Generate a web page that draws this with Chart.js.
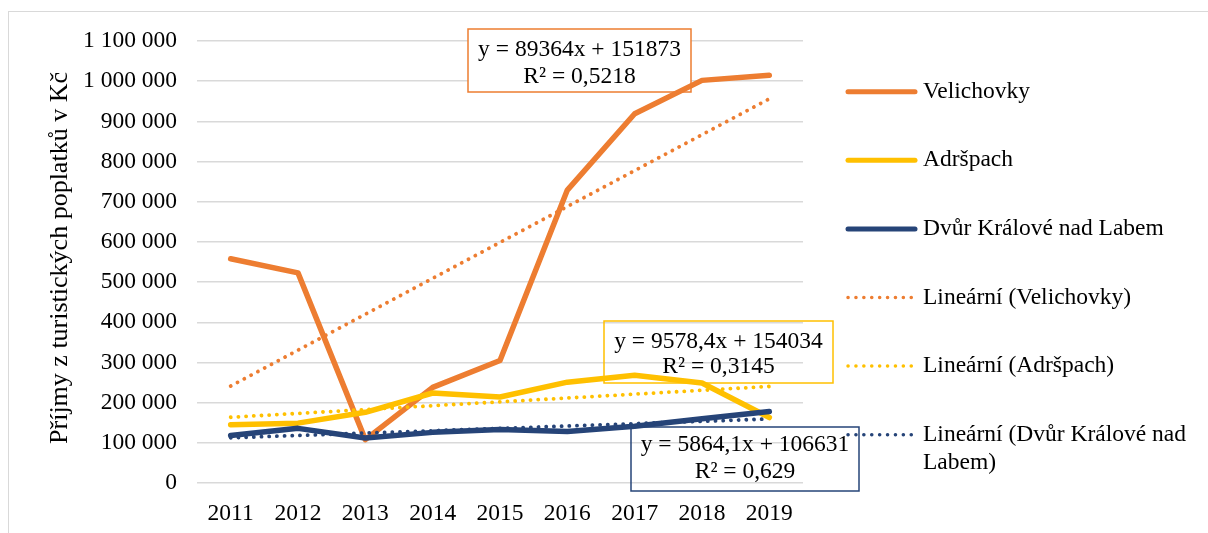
<!DOCTYPE html>
<html>
<head>
<meta charset="utf-8">
<script src="https://cdn.jsdelivr.net/npm/chart.js@4.4.0/dist/chart.umd.min.js"></script>
<style>
html, body { margin: 0; padding: 0; background: #fff; overflow: hidden; }
#ramec { position: absolute; left: 8px; top: 11px; width: 1400px; height: 700px; border: 1.5px solid #d9d9d9; }
#obal { position: absolute; left: 0; top: 0; width: 1208px; height: 533px; }
</style>
</head>
<body>
<div id="ramec"></div>
<div id="obal"><canvas id="graf" width="1208" height="533"></canvas></div>
<script>
const roky = ["2011", "2012", "2013", "2014", "2015", "2016", "2017", "2018", "2019"];
const velichovky = [558000, 523000, 108000, 238000, 305000, 729000, 919000, 1002000, 1015000];
const adrspach = [145000, 149000, 176000, 224000, 214000, 251000, 268000, 249000, 163000];
const dvur = [118000, 136000, 112000, 126000, 133000, 128000, 141000, 160000, 178000];
// trendy podle rovnic v grafu
const trendVelichovky = [241237, 330601, 419965, 509329, 598693, 688057, 777421, 866785, 956149];
const trendAdrspach = [163612, 173191, 182769, 192348, 201926, 211504, 221083, 230661, 240240];
const trendDvur = [112495, 118359, 124223, 130087, 135952, 141816, 147680, 153544, 159408];
const rovnice = [
  ["y = 89364x + 151873", "R² = 0,5218"],
  ["y = 9578,4x + 154034", "R² = 0,3145"],
  ["y = 5864,1x + 106631", "R² = 0,629"]
];

const ORANZ = "#ED7D31", ZLUTA = "#FFC000", MODRA = "#264478";
const PISMO = "'Liberation Serif', 'Times New Roman', serif";
const VEL = 23.5;

const carovy = (label, data, barva, order) => ({
  label, data, borderColor: barva, backgroundColor: barva,
  borderWidth: 5.5, pointRadius: 0, tension: 0,
  borderCapStyle: "round", borderJoinStyle: "round", order
});
const teckovany = (label, data, barva, order) => ({
  label, data, borderColor: barva, backgroundColor: barva,
  borderWidth: 3.8, pointRadius: 0, borderDash: [0.1, 7.6],
  borderCapStyle: "round", order
});

// rámečky s rovnicemi (pod čarami)
const rovnicePlugin = {
  id: "rovnice",
  beforeDatasetsDraw(chart) {
    const ctx = chart.ctx;
    const boxy = [
      { x: 468, y: 29, w: 223, h: 63, barva: ORANZ, vypln: "#fff", r1: 50, r2: 76.5 },
      { x: 604, y: 321, w: 229, h: 62, barva: ZLUTA, vypln: null, r1: 341.5, r2: 366.5 },
      { x: 631, y: 427, w: 228, h: 64, barva: MODRA, vypln: null, r1: 445, r2: 472 }
    ];
    ctx.save();
    boxy.forEach((b, i) => {
      if (b.vypln) { ctx.fillStyle = b.vypln; ctx.fillRect(b.x, b.y, b.w, b.h); }
      ctx.strokeStyle = b.barva;
      ctx.lineWidth = 1.5;
      ctx.strokeRect(b.x, b.y, b.w, b.h);
      ctx.fillStyle = "#000";
      ctx.font = VEL + "px " + PISMO;
      ctx.textAlign = "center";
      ctx.textBaseline = "middle";
      ctx.fillText(rovnice[i][0], b.x + b.w / 2, b.r1);
      ctx.fillText(rovnice[i][1], b.x + b.w / 2, b.r2);
    });
    ctx.restore();
  }
};

// legenda vpravo a popisek osy y
const legendaPlugin = {
  id: "legenda",
  afterDraw(chart) {
    const ctx = chart.ctx;
    ctx.save();
    ctx.font = VEL + "px " + PISMO;
    ctx.fillStyle = "#000";
    ctx.textBaseline = "middle";
    ctx.textAlign = "left";
    chart.data.datasets.forEach((ds, i) => {
      const y = 91.7 + i * 68.6;
      ctx.strokeStyle = ds.borderColor;
      ctx.lineWidth = ds.borderDash ? 3.5 : 5;
      ctx.lineCap = "round";
      ctx.setLineDash(ds.borderDash ? [0.1, 7.8] : []);
      ctx.beginPath();
      ctx.moveTo(848, y);
      ctx.lineTo(915, y);
      ctx.stroke();
      ctx.setLineDash([]);
      const radky = ds.label.split("\n");
      radky.forEach((t, j) => ctx.fillText(t, 923, y + j * 28.5));
    });
    ctx.font = "26px " + PISMO;
    ctx.translate(60, 258);
    ctx.rotate(-Math.PI / 2);
    ctx.textAlign = "center";
    ctx.fillText("Příjmy z turistických poplatků v Kč", 0, 0);
    ctx.restore();
  }
};

new Chart(document.getElementById("graf"), {
  type: "line",
  data: {
    labels: roky,
    datasets: [
      carovy("Velichovky", velichovky, ORANZ, 6),
      carovy("Adršpach", adrspach, ZLUTA, 5),
      carovy("Dvůr Králové nad Labem", dvur, MODRA, 4),
      teckovany("Lineární (Velichovky)", trendVelichovky, ORANZ, 3),
      teckovany("Lineární (Adršpach)", trendAdrspach, ZLUTA, 2),
      teckovany("Lineární (Dvůr Králové nad\nLabem)", trendDvur, MODRA, 1)
    ]
  },
  options: {
    responsive: false,
    animation: false,
    layout: { padding: { left: 0, top: 41, right: 405, bottom: 0 } },
    plugins: { legend: { display: false }, tooltip: { enabled: false } },
    scales: {
      x: {
        offset: true,
        grid: { display: false, drawTicks: false },
        border: { display: false },
        ticks: { color: "#000", font: { family: PISMO, size: VEL }, padding: 17, maxRotation: 0 },
        afterFit: s => { s.height = 50; }
      },
      y: {
        min: 0, max: 1100000,
        grid: { color: "#d9d9d9", lineWidth: 1.5, drawTicks: false },
        border: { display: false },
        ticks: {
          stepSize: 100000, color: "#000", padding: 20,
          font: { family: PISMO, size: VEL },
          callback: v => String(v).replace(/\B(?=(\d{3})+(?!\d))/g, " ")
        },
        afterFit: s => { s.width = 197; }
      }
    }
  },
  plugins: [rovnicePlugin, legendaPlugin]
});
</script>
</body>
</html>
